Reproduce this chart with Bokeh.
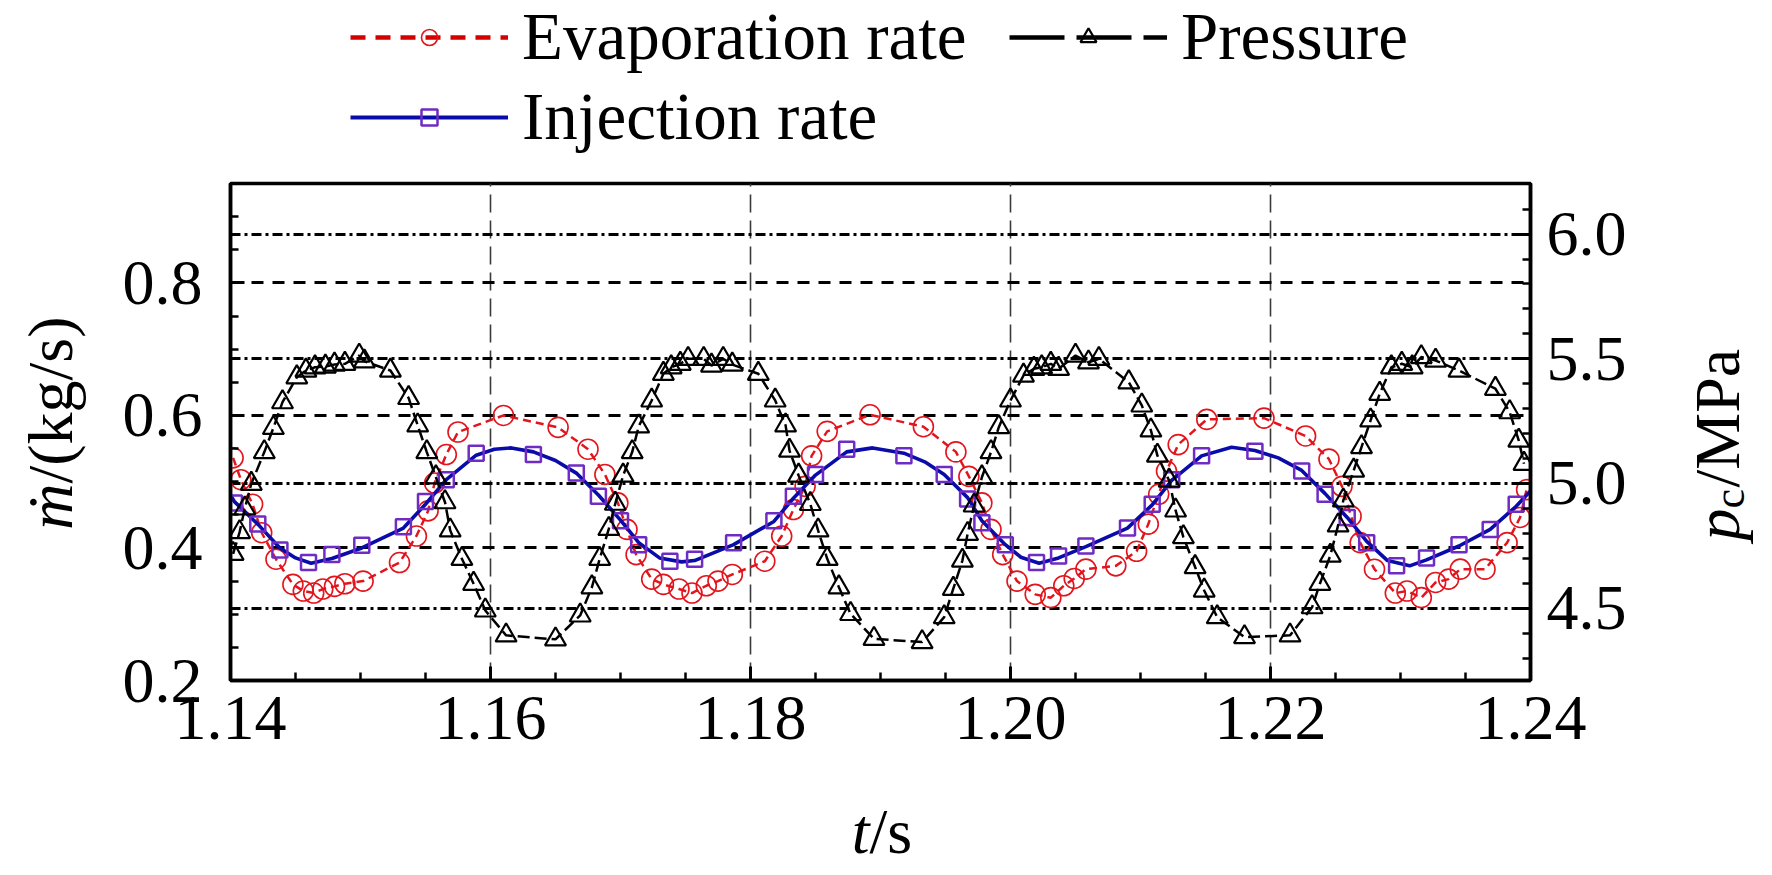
import math
from bokeh.plotting import figure
from bokeh.layouts import column, row
from bokeh.models import (Range1d, LinearAxis, FixedTicker, Grid, Legend, LegendItem,
                          Label, NumeralTickFormatter)
from bokeh.embed import file_html
from bokeh.resources import INLINE

# ---------------- data ----------------
evap_t = [1.1402, 1.1408, 1.1417, 1.1424, 1.1435, 1.1448, 1.1456, 1.1464, 1.1471, 1.1480,
          1.1488, 1.1502, 1.1530, 1.1543, 1.1552, 1.1557, 1.1566, 1.1575, 1.1610, 1.1652,
          1.1675, 1.1688, 1.1698, 1.1705, 1.1712, 1.1724, 1.1733, 1.1745, 1.1755, 1.1766,
          1.1775, 1.1786, 1.1811, 1.1824, 1.1833, 1.1842, 1.1847, 1.1859, 1.1892, 1.1933,
          1.1958, 1.1968, 1.1978, 1.1985, 1.1994, 1.2005, 1.2019, 1.2031, 1.2041, 1.2049,
          1.2058, 1.2081, 1.2097, 1.2106, 1.2114, 1.2120, 1.2129, 1.2151, 1.2195, 1.2227,
          1.2245, 1.2255, 1.2262, 1.2269, 1.2280, 1.2296, 1.2305, 1.2316, 1.2327, 1.2337,
          1.2346, 1.2365, 1.2382, 1.2392, 1.2397]
evap_v = [0.536, 0.503, 0.466, 0.423, 0.383, 0.345, 0.335, 0.332, 0.338, 0.342,
          0.346, 0.350, 0.378, 0.418, 0.456, 0.498, 0.541, 0.575, 0.600, 0.582,
          0.549, 0.511, 0.468, 0.428, 0.390, 0.353, 0.345, 0.338, 0.332, 0.343,
          0.350, 0.360, 0.380, 0.418, 0.458, 0.493, 0.539, 0.576, 0.601, 0.583,
          0.545, 0.508, 0.468, 0.428, 0.390, 0.350, 0.330, 0.325, 0.343, 0.354,
          0.368, 0.373, 0.395, 0.436, 0.481, 0.516, 0.556, 0.594, 0.596, 0.569,
          0.534, 0.493, 0.448, 0.408, 0.368, 0.332, 0.335, 0.325, 0.348, 0.353,
          0.368, 0.368, 0.408, 0.446, 0.488]

inj_t = [1.1403, 1.1421, 1.1438, 1.1460, 1.1478, 1.1501, 1.1533, 1.1550, 1.1566, 1.1589,
         1.1633, 1.1666, 1.1683, 1.1700, 1.1714, 1.1738, 1.1757, 1.1787, 1.1818, 1.1833,
         1.1850, 1.1874, 1.1918, 1.1949, 1.1967, 1.1978, 1.1996, 1.2020, 1.2037, 1.2058,
         1.2090, 1.2109, 1.2124, 1.2147, 1.2188, 1.2224, 1.2242, 1.2259, 1.2274, 1.2297,
         1.2320, 1.2345, 1.2369, 1.2389]
inj_v = [0.468, 0.436, 0.397, 0.378, 0.390, 0.404, 0.432, 0.470, 0.503, 0.543,
         0.541, 0.513, 0.478, 0.441, 0.405, 0.380, 0.383, 0.408, 0.441, 0.478,
         0.511, 0.549, 0.539, 0.511, 0.474, 0.438, 0.405, 0.378, 0.388, 0.403,
         0.430, 0.466, 0.503, 0.539, 0.546, 0.516, 0.481, 0.446, 0.408, 0.373,
         0.385, 0.405, 0.428, 0.466]

# smooth injection-rate curve
inj_curve_t = [1.1400, 1.1403, 1.1421, 1.1438, 1.1450, 1.1462, 1.1478, 1.1501, 1.1533, 1.1550,
               1.1566, 1.1589, 1.1603, 1.1616, 1.1633, 1.1650, 1.1666, 1.1683, 1.1700, 1.1714,
               1.1730, 1.1747, 1.1757, 1.1787, 1.1818, 1.1833, 1.1850, 1.1874, 1.1894, 1.1918,
               1.1934, 1.1949, 1.1967, 1.1978, 1.1996, 1.2008, 1.2022, 1.2037, 1.2058, 1.2090,
               1.2109, 1.2124, 1.2147, 1.2170, 1.2188, 1.2206, 1.2224, 1.2242, 1.2259, 1.2274,
               1.2290, 1.2307, 1.2320, 1.2345, 1.2369, 1.2389, 1.2400]
inj_curve_v = [0.480, 0.470, 0.436, 0.400, 0.385, 0.377, 0.384, 0.400, 0.430, 0.466,
               0.503, 0.540, 0.549, 0.551, 0.545, 0.532, 0.513, 0.480, 0.442, 0.408,
               0.385, 0.379, 0.381, 0.405, 0.440, 0.475, 0.510, 0.545, 0.551, 0.543,
               0.530, 0.511, 0.476, 0.441, 0.405, 0.386, 0.377, 0.385, 0.402, 0.430,
               0.465, 0.502, 0.539, 0.552, 0.547, 0.536, 0.517, 0.482, 0.446, 0.410,
               0.381, 0.373, 0.382, 0.403, 0.428, 0.463, 0.486]

pres_t = [1.1402, 1.1407, 1.1411, 1.1416, 1.1426, 1.1433, 1.1440, 1.1451, 1.1458, 1.1465,
          1.1473, 1.1480, 1.1488, 1.1499, 1.1503, 1.1523, 1.1537, 1.1544, 1.1551, 1.1558,
          1.1565, 1.1569, 1.1578, 1.1587, 1.1596, 1.1612, 1.1650, 1.1669, 1.1678, 1.1684,
          1.1691, 1.1696, 1.1702, 1.1709, 1.1714, 1.1724, 1.1733, 1.1739, 1.1746, 1.1752,
          1.1764, 1.1770, 1.1779, 1.1786, 1.1806, 1.1819, 1.1827, 1.1830, 1.1837, 1.1846,
          1.1852, 1.1859, 1.1868, 1.1877, 1.1895, 1.1932, 1.1949, 1.1956, 1.1963, 1.1967,
          1.1972, 1.1978, 1.1985, 1.1991, 1.2000, 1.2010, 1.2018, 1.2024, 1.2031, 1.2037,
          1.2050, 1.2060, 1.2068, 1.2091, 1.2101, 1.2108, 1.2113, 1.2122, 1.2127, 1.2133,
          1.2142, 1.2149, 1.2159, 1.2180, 1.2215, 1.2232, 1.2238, 1.2246, 1.2252, 1.2256,
          1.2264, 1.2270, 1.2277, 1.2284, 1.2293, 1.2301, 1.2309, 1.2316, 1.2327, 1.2345,
          1.2373, 1.2384, 1.2391, 1.2395]
pres_p = [4.718, 4.805, 4.900, 4.999, 5.126, 5.223, 5.326, 5.426, 5.453, 5.466,
          5.469, 5.477, 5.480, 5.513, 5.490, 5.453, 5.343, 5.233, 5.126, 5.025,
          4.925, 4.812, 4.698, 4.598, 4.491, 4.391, 4.375, 4.471, 4.584, 4.698,
          4.818, 4.919, 5.032, 5.126, 5.229, 5.333, 5.440, 5.466, 5.480, 5.500,
          5.500, 5.473, 5.500, 5.477, 5.440, 5.333, 5.233, 5.132, 5.032, 4.918,
          4.812, 4.698, 4.584, 4.477, 4.377, 4.364, 4.464, 4.578, 4.691, 4.798,
          4.912, 5.025, 5.126, 5.226, 5.333, 5.433, 5.460, 5.466, 5.480, 5.460,
          5.513, 5.486, 5.500, 5.406, 5.313, 5.213, 5.112, 5.012, 4.892, 4.785,
          4.665, 4.571, 4.464, 4.384, 4.391, 4.504, 4.598, 4.711, 4.832, 4.932,
          5.052, 5.146, 5.253, 5.360, 5.466, 5.480, 5.466, 5.507, 5.493, 5.453,
          5.380, 5.286, 5.172, 5.079]

series_names = ["Evaporation rate", "Injection rate", "Pressure"]
x_ticks = [1.14, 1.16, 1.18, 1.20, 1.22, 1.24]
x_minor = [1.145, 1.15, 1.155, 1.165, 1.17, 1.175, 1.185, 1.19, 1.195,
           1.205, 1.21, 1.215, 1.225, 1.23, 1.235]
y_ticks = [0.2, 0.4, 0.6, 0.8]
y_minor = [0.25, 0.3, 0.35, 0.45, 0.5, 0.55, 0.65, 0.7, 0.75, 0.85, 0.9]
p_ticks = [4.5, 5.0, 5.5, 6.0]
p_minor = [4.3, 4.4, 4.6, 4.7, 4.8, 4.9, 5.1, 5.2, 5.3, 5.4, 5.6, 5.7, 5.8, 5.9, 6.1]
x_grid = [1.16, 1.18, 1.20, 1.22]
y_grid = [0.4, 0.6, 0.8]
p_grid = [4.5, 5.0, 5.5, 6.0]

# ---------------- layout / style ----------------
W = 1756
TOP_H, MID_H, BOT_H = 165, 614, 88
LW, RW = 95, 116
MW = W - LW - RW
BT, BB = 18, 99            # top / bottom borders of the middle row plots
X0, X1 = 1.14, 1.24
Y0, Y1 = 0.2, 0.95
P0, P1 = 4.21, 6.203
FONT = "Liberation Serif"
FS = "64px"
RED = "#e3141c"
BLUE = "#0a0caa"
PURPLE = "#6f2cc4"

EVAP_LINE = dict(line_color=RED, line_width=2.5, line_dash="8 5")
EVAP_PTS = dict(marker="circle", size=20, line_color=RED, line_width=1.6, fill_color=None)
INJ_LINE = dict(line_color=BLUE, line_width=3.6)
INJ_PTS = dict(marker="square", size=15, line_color=PURPLE, line_width=2.5, fill_color=None)
P_LINE = dict(line_color="black", line_width=2.5, line_dash="12 5")
P_PTS = dict(marker="triangle", size=21, line_color="black", line_width=2.2, fill_color=None)

# legend keys (drawn a bit bolder, as in the reference key)
EVAP_KEY = dict(line_color="#d40000", line_width=4.5, line_dash="15 10")
INJ_KEY = dict(line_color=BLUE, line_width=4)
P_KEY = dict(line_color="black", line_width=4.5, line_dash="55 12")


def blank_fig(w, h, bt=0, bb=0):
    # data units equal pixels measured from the bottom of this canvas
    f = figure(width=w, height=h, x_range=Range1d(0, w), y_range=Range1d(bb, h - bt),
               output_backend="svg", toolbar_location=None,
               min_border_left=0, min_border_right=0, min_border_top=bt, min_border_bottom=bb,
               x_axis_location=None, y_axis_location=None)
    f.outline_line_color = None
    f.grid.visible = False
    return f


# ---------------- main plot ----------------
p = figure(width=MW, height=MID_H, x_range=Range1d(X0, X1), y_range=Range1d(Y0, Y1),
           output_backend="svg", toolbar_location=None,
           min_border_left=135, min_border_right=110, min_border_top=BT, min_border_bottom=BB)
p.extra_y_ranges = {"p": Range1d(P0, P1)}
p.grid.visible = False
p.outline_line_color = "black"
p.outline_line_width = 3.5


def style_axis(ax, standoff):
    ax.axis_line_width = 3.5
    ax.axis_line_color = "black"
    ax.major_tick_in = 14
    ax.major_tick_out = 0
    ax.minor_tick_in = 8
    ax.minor_tick_out = 0
    ax.major_tick_line_width = 3
    ax.minor_tick_line_width = 2.5
    ax.major_label_text_font = FONT
    ax.major_label_text_font_size = FS
    ax.major_label_text_color = "black"
    ax.major_label_standoff = standoff


xax = p.xaxis[0]
xax.ticker = FixedTicker(ticks=x_ticks, minor_ticks=x_minor)
xax.formatter = NumeralTickFormatter(format="0.00")
style_axis(xax, 16)

yax = p.yaxis[0]
yax.ticker = FixedTicker(ticks=y_ticks, minor_ticks=y_minor)
yax.formatter = NumeralTickFormatter(format="0.0")
style_axis(yax, 28)

rax = LinearAxis(y_range_name="p", ticker=FixedTicker(ticks=p_ticks, minor_ticks=p_minor),
                 formatter=NumeralTickFormatter(format="0.0"))
style_axis(rax, 16)
p.add_layout(rax, "right")

gx = Grid(dimension=0, ticker=FixedTicker(ticks=x_grid), grid_line_color="#3a3a3a",
          grid_line_width=1.6, grid_line_dash="18 8")
gy = Grid(dimension=1, ticker=FixedTicker(ticks=y_grid), grid_line_color="black",
          grid_line_width=3, grid_line_dash="12 9")
gp = Grid(dimension=1, ticker=FixedTicker(ticks=p_grid), y_range_name="p",
          grid_line_color="black", grid_line_width=3, grid_line_dash="10 4 3 4")
for g in (gx, gy, gp):
    p.add_layout(g, "center")

p.line(evap_t, evap_v, **EVAP_LINE)
p.scatter(evap_t, evap_v, **EVAP_PTS)
p.line(inj_curve_t, inj_curve_v, **INJ_LINE)
p.scatter(inj_t, inj_v, **INJ_PTS)
p.line(pres_t, pres_p, y_range_name="p", **P_LINE)
p.scatter(pres_t, pres_p, y_range_name="p", **P_PTS)

# ---------------- legend strip (top) ----------------
top = blank_fig(W, TOP_H)
OFF = [-1000.0]   # legend-only proxies, placed outside the visible range
l1 = top.line(OFF, OFF, **EVAP_KEY)
s1 = top.scatter(OFF, OFF, **EVAP_PTS)
l2 = top.line(OFF, OFF, **INJ_KEY)
s2 = top.scatter(OFF, OFF, **INJ_PTS)
l3 = top.line(OFF, OFF, **P_KEY)
s3 = top.scatter(OFF, OFF, **P_PTS)
legend = Legend(items=[
    LegendItem(label=series_names[0], renderers=[l1, s1]),
    LegendItem(label=series_names[1], renderers=[l2, s2]),
    LegendItem(label=series_names[2], renderers=[l3, s3]),
], orientation="vertical", nrows=2, location=(350, 10), padding=0, margin=0, spacing=3,
    glyph_width=158, glyph_height=40, label_height=20, label_width=484, label_standoff=14,
    label_text_font=FONT, label_text_font_size="67px", label_text_color="black",
    border_line_color=None, background_fill_alpha=0)
top.add_layout(legend, "center")


def lab(fig, text, x, y, align, italic=False, size=FS, angle=0.0):
    fig.add_layout(Label(x=x, y=y, text=text, angle=angle, text_align=align,
                         text_baseline="middle", text_font=FONT, text_font_size=size,
                         text_font_style="italic" if italic else "normal",
                         text_color="black"))


A = math.pi / 2
# left title: m-dot/(kg/s)   (y given as pixels from the bottom of the row)
left = blank_fig(LW, MID_H, BT, BB)
lab(left, "\u1e41", 50, MID_H - 318, "right", italic=True, angle=A)
lab(left, "/(kg/s)", 50, MID_H - 318, "left", angle=A)

# right title: p_c/MPa
right = blank_fig(RW, MID_H, BT, BB)
lab(right, "p", 77, MID_H - 343, "right", italic=True, angle=A)
lab(right, "c", 89, MID_H - 343, "left", size="44px", angle=A)
lab(right, "/MPa", 77, MID_H - 322, "left", angle=A)

# bottom title: t/s
bottom = blank_fig(W, BOT_H)
lab(bottom, "t", 869, BOT_H - 52, "right", italic=True)
lab(bottom, "/s", 869, BOT_H - 52, "left")

layout = column(top, row(left, p, right), bottom)
open("out.html", "w").write(file_html(layout, INLINE))
